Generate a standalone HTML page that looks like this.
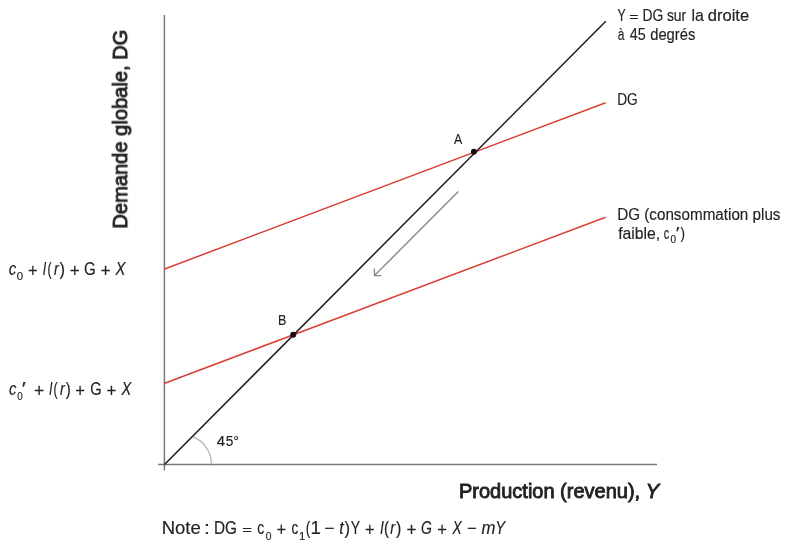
<!DOCTYPE html>
<html><head><meta charset="utf-8"><title>DG</title>
<style>
html,body{margin:0;padding:0;background:#fff;}
body{width:810px;height:553px;overflow:hidden;}
svg{display:block;}
text{font-family:"Liberation Sans",sans-serif;fill:#222;stroke:#222;stroke-width:0.15;}
.b{font-weight:bold;stroke-width:0;}
.i{font-style:italic;}
.t{stroke-width:0.85;}
</style></head>
<body>
<svg width="810" height="553" viewBox="0 0 810 553">
<line x1="164.4" y1="15" x2="164.4" y2="470.5" stroke="#777777" stroke-width="1.45"/>
<line x1="158" y1="464.5" x2="657" y2="464.5" stroke="#777777" stroke-width="1.45"/>
<path d="M193.2,436.9 A29.3,29.3 0 0 1 211.4,464.5" fill="none" stroke="#b4b4b4" stroke-width="1.2"/>
<line x1="164" y1="269.2" x2="605.6" y2="102.7" stroke="#da3f31" stroke-width="1.5"/>
<line x1="164" y1="383.5" x2="605.6" y2="217.2" stroke="#da3f31" stroke-width="1.5"/>
<line x1="164.5" y1="464.5" x2="605.8" y2="21.3" stroke="#1c1c1c" stroke-width="1.5"/>
<path d="M458.4,191.4 L374.5,275.6 M374.3,268.6 L374.5,275.6 L381.4,275.6" fill="none" stroke="#888888" stroke-width="1.4"/>
<circle cx="473.9" cy="151.8" r="3" fill="#111"/>
<circle cx="293.2" cy="334.7" r="3" fill="#111"/>
<g style="filter:grayscale(1)">
<text transform="translate(617.76,20.80) scale(0.770,1)" x="-0.35" y="0" font-size="15.8">Y</text>
<text transform="translate(630.07,20.80) scale(0.997,0.7)" x="-0.77" y="0" font-size="15.8">=</text>
<text transform="translate(643.67,20.80) scale(0.880,1)" x="-1.30" y="0" font-size="15.8">DG</text>
<text transform="translate(667.27,20.80) scale(0.883,1)" x="-0.44" y="0" font-size="15.8">sur</text>
<text transform="translate(692.48,20.80) scale(1.010,1)" x="-1.06" y="0" font-size="15.8">la</text>
<text transform="translate(708.38,20.80) scale(1.049,1)" x="-0.66" y="0" font-size="15.8">droite</text>
<text transform="translate(618.16,39.70) scale(0.762,1)" x="-0.67" y="0" font-size="15.8">à</text>
<text transform="translate(629.97,39.70) scale(0.910,1)" x="-0.36" y="0" font-size="15.8">45</text>
<text transform="translate(650.77,39.70) scale(0.936,1)" x="-0.66" y="0" font-size="15.8">degrés</text>
<text x="617.20" y="104.9" font-size="15.8" textLength="20.50" lengthAdjust="spacingAndGlyphs">DG</text>
<text x="617.20" y="220.3" font-size="15.8" textLength="163.30" lengthAdjust="spacingAndGlyphs">DG (consommation plus</text>
<text transform="translate(618.37,238.90) scale(0.996,1)" x="-0.22" y="0" font-size="15.8">faible,</text>
<text transform="translate(664.15,238.90) scale(0.704,1)" x="-0.67" y="0" font-size="15.8">c</text>
<text transform="translate(670.97,243.10) scale(0.948,1)" x="-0.41" y="0" font-size="10.5">0</text>
<text transform="translate(676.50,238.90) scale(1.300,1)" x="-0.66" y="0" font-size="15.8">′</text>
<text transform="translate(680.46,238.90) scale(0.853,1)" x="-0.09" y="0" font-size="15.8">)</text>
<text transform="translate(9.16,274.60) scale(0.861,1)" x="-0.57" y="0" font-size="17.5" class="i">c</text>
<text transform="translate(17.28,280.20) scale(1.035,1)" x="-0.43" y="0" font-size="11">0</text>
<text transform="translate(28.77,276.70) scale(0.948,1)" x="-0.85" y="0" font-size="17.5">+</text>
<text transform="translate(43.35,274.60) scale(0.728,1)" x="-0.69" y="0" font-size="17.5" class="i">I</text>
<text transform="translate(48.15,274.60) scale(0.700,1)" x="-1.09" y="0" font-size="17.5">(</text>
<text transform="translate(54.16,274.60) scale(0.828,1)" x="-0.29" y="0" font-size="17.5" class="i">r</text>
<text transform="translate(59.67,274.60) scale(0.939,1)" x="-0.10" y="0" font-size="17.5">)</text>
<text transform="translate(70.47,276.70) scale(0.982,1)" x="-0.85" y="0" font-size="17.5">+</text>
<text transform="translate(84.86,274.60) scale(0.864,1)" x="-0.88" y="0" font-size="17.5">G</text>
<text transform="translate(101.37,276.70) scale(0.994,1)" x="-0.85" y="0" font-size="17.5">+</text>
<text transform="translate(115.26,274.60) scale(0.850,1)" x="0.33" y="0" font-size="17.5" class="i">X</text>
<text transform="translate(9.36,394.60) scale(0.849,1)" x="-0.57" y="0" font-size="17.5" class="i">c</text>
<text transform="translate(17.57,400.20) scale(0.888,1)" x="-0.43" y="0" font-size="11">0</text>
<text transform="translate(22.79,394.60) scale(1.265,1)" x="-0.73" y="0" font-size="17.5">′</text>
<text transform="translate(34.88,396.70) scale(1.006,1)" x="-0.85" y="0" font-size="17.5">+</text>
<text transform="translate(49.45,394.60) scale(0.728,1)" x="-0.69" y="0" font-size="17.5" class="i">I</text>
<text transform="translate(54.25,394.60) scale(0.700,1)" x="-1.09" y="0" font-size="17.5">(</text>
<text transform="translate(60.26,394.60) scale(0.828,1)" x="-0.29" y="0" font-size="17.5" class="i">r</text>
<text transform="translate(65.76,394.60) scale(0.856,1)" x="-0.10" y="0" font-size="17.5">)</text>
<text transform="translate(76.17,396.70) scale(0.948,1)" x="-0.85" y="0" font-size="17.5">+</text>
<text transform="translate(90.96,394.60) scale(0.838,1)" x="-0.88" y="0" font-size="17.5">G</text>
<text transform="translate(107.27,396.70) scale(0.971,1)" x="-0.85" y="0" font-size="17.5">+</text>
<text transform="translate(121.16,394.60) scale(0.834,1)" x="0.33" y="0" font-size="17.5" class="i">X</text>
<text transform="translate(163.18,533.50) scale(1.057,1)" x="-1.44" y="0" font-size="17.5">Note</text>
<text transform="translate(205.99,533.50) scale(1.211,1)" x="-1.60" y="0" font-size="17.5">:</text>
<text transform="translate(215.27,533.50) scale(0.875,1)" x="-1.44" y="0" font-size="17.5">DG</text>
<text transform="translate(243.07,533.50) scale(0.959,0.7)" x="-0.85" y="0" font-size="17.5">=</text>
<text transform="translate(257.86,533.50) scale(0.793,1)" x="-0.74" y="0" font-size="17.5">c</text>
<text transform="translate(266.07,539.80) scale(0.943,1)" x="-0.43" y="0" font-size="11">0</text>
<text transform="translate(277.27,535.60) scale(0.948,1)" x="-0.85" y="0" font-size="17.5">+</text>
<text transform="translate(292.16,533.50) scale(0.767,1)" x="-0.74" y="0" font-size="17.5">c</text>
<text transform="translate(299.98,539.80) scale(1.042,1)" x="-0.84" y="0" font-size="11">1</text>
<text transform="translate(306.56,533.50) scale(0.772,1)" x="-1.09" y="0" font-size="17.5">(</text>
<text transform="translate(311.78,533.50) scale(1.066,1)" x="-1.33" y="0" font-size="17.5">1</text>
<text transform="translate(325.07,533.50) scale(0.994,1)" x="-0.86" y="0" font-size="17.5">−</text>
<text transform="translate(339.97,533.50) scale(0.912,1)" x="-0.79" y="0" font-size="17.5" class="i">t</text>
<text transform="translate(344.47,533.50) scale(0.939,1)" x="-0.10" y="0" font-size="17.5">)</text>
<text transform="translate(351.16,533.50) scale(0.805,1)" x="-0.38" y="0" font-size="17.5">Y</text>
<text transform="translate(365.67,535.60) scale(0.936,1)" x="-0.85" y="0" font-size="17.5">+</text>
<text transform="translate(380.46,533.50) scale(0.800,1)" x="-0.69" y="0" font-size="17.5" class="i">I</text>
<text transform="translate(384.86,533.50) scale(0.856,1)" x="-1.09" y="0" font-size="17.5">(</text>
<text transform="translate(390.46,533.50) scale(0.828,1)" x="-0.29" y="0" font-size="17.5" class="i">r</text>
<text transform="translate(396.17,533.50) scale(0.919,1)" x="-0.10" y="0" font-size="17.5">)</text>
<text transform="translate(407.27,535.60) scale(0.982,1)" x="-0.85" y="0" font-size="17.5">+</text>
<text transform="translate(421.66,533.50) scale(0.799,1)" x="-0.86" y="0" font-size="17.5" class="i">G</text>
<text transform="translate(437.97,535.60) scale(0.948,1)" x="-0.85" y="0" font-size="17.5">+</text>
<text transform="translate(452.26,533.50) scale(0.787,1)" x="0.33" y="0" font-size="17.5" class="i">X</text>
<text transform="translate(467.87,533.50) scale(0.959,1)" x="-0.86" y="0" font-size="17.5">−</text>
<text transform="translate(481.77,533.50) scale(0.954,1)" x="-0.29" y="0" font-size="17.5" class="i">m</text>
<text transform="translate(496.76,533.50) scale(0.850,1)" x="-1.82" y="0" font-size="17.5" class="i">Y</text>
<text transform="translate(454.06,144.00) scale(0.806,1)" x="-0.03" y="0" font-size="15.3">A</text>
<text transform="translate(279.06,325.30) scale(0.820,1)" x="-1.26" y="0" font-size="15.3">B</text>
<text transform="translate(217.07,445.70) scale(0.980,1)" x="-0.35" y="0" font-size="15.3">4</text>
<text transform="translate(226.37,445.70) scale(0.891,1)" x="-0.61" y="0" font-size="15.3">5</text>
<text transform="translate(234.17,445.70) scale(0.946,1)" x="-0.91" y="0" font-size="15.3">°</text>
<text class="t" font-size="20" textLength="199.0" lengthAdjust="spacingAndGlyphs" transform="translate(127.1,228.64) rotate(-90)">Demande globale, DG</text>
<text class="t" x="458.96" y="498.4" font-size="20" textLength="200.1" lengthAdjust="spacingAndGlyphs">Production (revenu), <tspan class="i">Y</tspan></text>
</g>
</svg>
</body></html>
